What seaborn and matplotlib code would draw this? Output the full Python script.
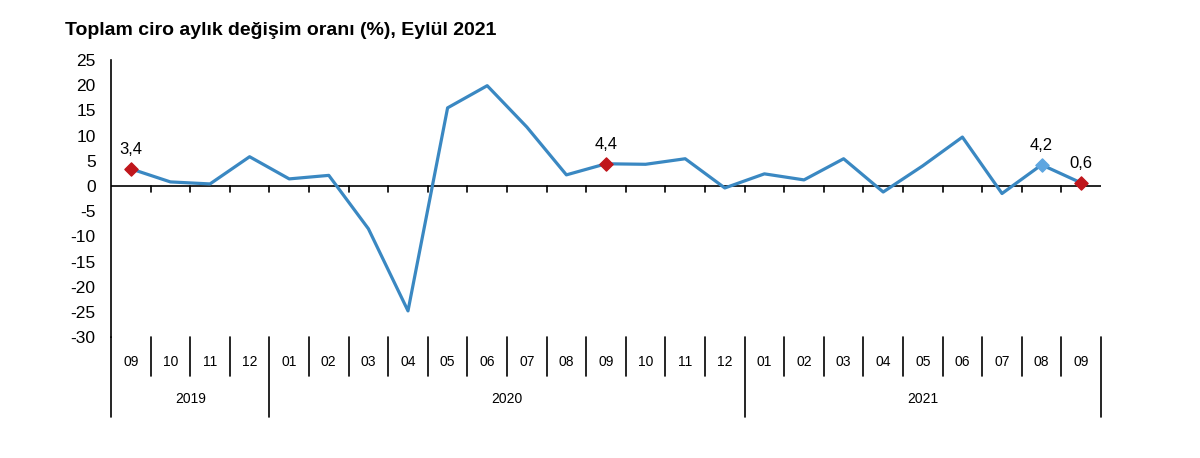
import numpy as np
import pandas as pd
import matplotlib
matplotlib.use("Agg")
import matplotlib.pyplot as plt
import matplotlib.transforms as mtransforms
import seaborn as sns

months = ["09", "10", "11", "12",
          "01", "02", "03", "04", "05", "06", "07", "08", "09", "10", "11", "12",
          "01", "02", "03", "04", "05", "06", "07", "08", "09"]
years = ["2019", "2020", "2021"]
year_counts = [4, 12, 9]
values = [3.4, 0.8, 0.4, 5.8,
          1.4, 2.1, -8.5, -24.8, 15.5, 19.9, 11.7, 2.2, 4.4, 4.3, 5.4, -0.4,
          2.4, 1.2, 5.4, -1.2, 4.0, 9.7, -1.5, 4.2, 0.6]
# highlighted points
red_idx = [0, 12, 24]
blue_idx = [23]

df = pd.DataFrame({"pos": np.arange(len(values)), "value": values})

sns.set_style("white")
plt.rcParams['font.family'] = ['Liberation Sans', 'DejaVu Sans']
plt.rcParams['axes.unicode_minus'] = False
plt.rcParams['text.color'] = 'black'

fig = plt.figure(figsize=(12, 4.58), dpi=100)
ax = fig.add_axes([0.0925, 0.264, 0.825, 0.605])

line_col = "#3a88c2"
sns.lineplot(data=df, x="pos", y="value", ax=ax, color=line_col, linewidth=2.3)

hl = df.iloc[red_idx]
ax.scatter(hl["pos"], hl["value"], marker="D", s=45, color="#c0161c", zorder=5)
hb = df.iloc[blue_idx]
ax.scatter(hb["pos"], hb["value"], marker="D", s=45, color="#5ea6e0", zorder=5)

for i in red_idx + blue_idx:
    ax.text(df["pos"][i], values[i] + 2.4, f"{values[i]:.1f}".replace(".", ","),
            ha="center", va="bottom", fontsize=12)

ax.set_xlim(-0.5, len(values) - 0.5)
ax.set_ylim(-30, 25)
ax.set_yticks(np.arange(-30, 26, 5))
ax.tick_params(axis="y", labelsize=12.5, length=5, width=1, direction="out", pad=6,
               colors="black", labelcolor="black")
ax.set_xticks([])
ax.set_xlabel("")
ax.set_ylabel("")

for s in ["top", "right", "bottom"]:
    ax.spines[s].set_visible(False)
ax.spines["left"].set_color("black")
ax.spines["left"].set_linewidth(1.2)
ax.axhline(0, color="black", linewidth=1.2, zorder=1)

# ticks on zero line
for b in np.arange(0.5, len(values) - 0.5, 1):
    ax.plot([b, b], [0, -1.2], color="black", linewidth=1.2, clip_on=False)

trans = mtransforms.blended_transform_factory(ax.transData, ax.transAxes)
y_month = -0.141
y_year = -0.289
for j, m in enumerate(months):
    ax.text(j, -0.09, m, transform=trans, ha="center", va="center", fontsize=10)
boundaries = np.cumsum([0] + year_counts) - 0.5
for b in np.arange(-0.5, len(values), 1):
    is_year = np.any(np.isclose(boundaries, b))
    ax.plot([b, b], [0, y_year if is_year else y_month], transform=trans,
            color="black", linewidth=1.2, clip_on=False)
start = -0.5
for yr, c in zip(years, year_counts):
    ax.text(start + c / 2, -0.224, yr, transform=trans, ha="center", va="center", fontsize=10)
    start += c

fig.text(0.054, 0.934, "Toplam ciro aylık değişim oranı (%), Eylül 2021",
         fontsize=14, fontweight="bold", ha="left", va="center", color="black")

fig.savefig("out.png", dpi=100)
